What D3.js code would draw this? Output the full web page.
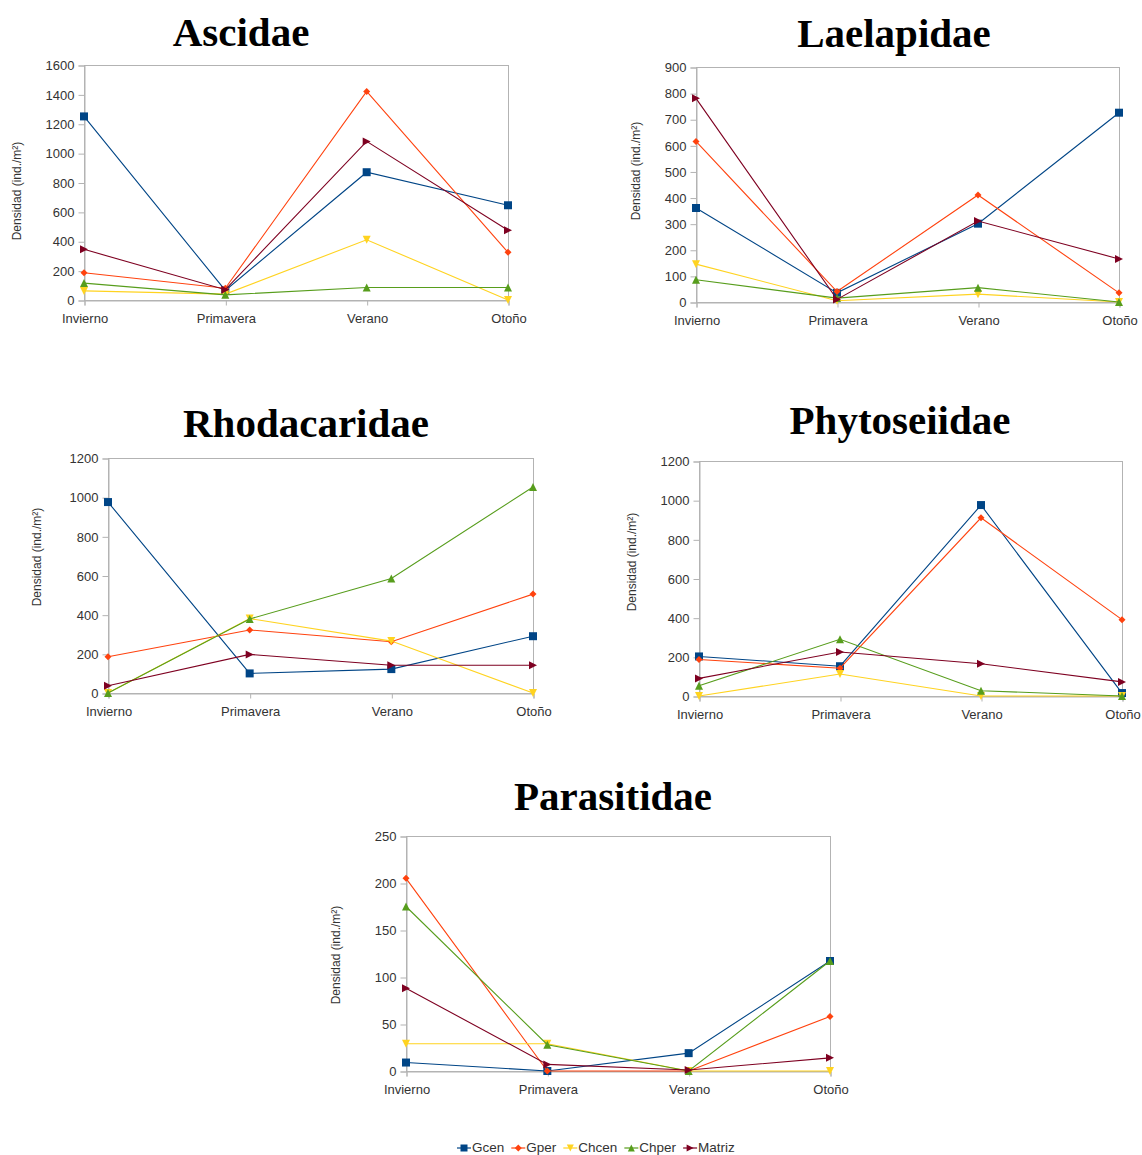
<!DOCTYPE html>
<html>
<head>
<meta charset="utf-8">
<script src="https://cdn.jsdelivr.net/npm/d3@7"></script>
<style>
  body { margin: 0; background: #fff; }
  svg { display: block; }
</style>
</head>
<body>
<svg id="chart" width="1142" height="1155"></svg>
<script>
// Seasons on the x axis and the five habitat series
const seasons = ["Invierno", "Primavera", "Verano", "Otoño"];
const seriesNames = ["Gcen", "Gper", "Chcen", "Chper", "Matriz"];
const seriesColors = ["#004586", "#ff420e", "#ffd320", "#579d1c", "#7e0021"];
const seriesSymbols = ["square", "diamond", "triangleDown", "triangleUp", "triangleRight"];

// Density (ind./m²) per family; rows follow seriesNames, columns follow seasons
const ascidae = [
  [1250, 65, 870, 645],
  [185, 80, 1420, 325],
  [62, 40, 410, 0],
  [115, 35, 85, 85],
  [345, 70, 1080, 475]
];
const laelapidae = [
  [360, 35, 300, 725],
  [615, 40, 410, 35],
  [145, 5, 30, 0],
  [85, 15, 55, 0],
  [780, 10, 310, 165]
];
const rhodacaridae = [
  [975, 100, 122, 290],
  [185, 322, 262, 505],
  [0, 380, 265, 0],
  [0, 378, 585, 1052],
  [37, 197, 142, 142]
];
const phytoseiidae = [
  [202, 152, 975, 15],
  [186, 142, 910, 390],
  [0, 112, 0, 0],
  [52, 290, 27, 0],
  [90, 225, 165, 72]
];
const parasitidae = [
  [9, 0, 19, 117],
  [205, 0, 0, 58],
  [29, 29, 0, 0],
  [175, 28, 0, 117],
  [88, 7, 1, 14]
];

// Y tick values per family
const ticksAscidae = [0, 200, 400, 600, 800, 1000, 1200, 1400, 1600];
const ticksLaelapidae = [0, 100, 200, 300, 400, 500, 600, 700, 800, 900];
const ticksRhodacaridae = [0, 200, 400, 600, 800, 1000, 1200];
const ticksPhytoseiidae = [0, 200, 400, 600, 800, 1000, 1200];
const ticksParasitidae = [0, 50, 100, 150, 200, 250];

const yLabel = "Densidad (ind./m²)";

// Panel placement on the page
const panels = [
  { title: "Ascidae", data: ascidae, ticks: ticksAscidae,
    x0: 84, x1: 508, yTop: 65, yBot: 300, titleX: 241, titleY: 46, labX: 18, labY: 191 },
  { title: "Laelapidae", data: laelapidae, ticks: ticksLaelapidae,
    x0: 696, x1: 1119, yTop: 67, yBot: 302, titleX: 894, titleY: 47, labX: 637, labY: 171 },
  { title: "Rhodacaridae", data: rhodacaridae, ticks: ticksRhodacaridae,
    x0: 108, x1: 533, yTop: 458, yBot: 693, titleX: 306, titleY: 437, labX: 38, labY: 557 },
  { title: "Phytoseiidae", data: phytoseiidae, ticks: ticksPhytoseiidae,
    x0: 699, x1: 1122, yTop: 461, yBot: 696, titleX: 900, titleY: 434, labX: 633, labY: 562 },
  { title: "Parasitidae", data: parasitidae, ticks: ticksParasitidae,
    x0: 406, x1: 830, yTop: 836, yBot: 1071, titleX: 613, titleY: 810, labX: 337, labY: 955 }
];

const svg = d3.select("#chart");
const frameColor = "#b3b3b3";
const textColor = "#333";
const sansFont = "'Liberation Sans', Arial, sans-serif";

function symbolPath(kind, s) {
  const h = s / 2;
  switch (kind) {
    case "square": return `M${-h},${-h}H${h}V${h}H${-h}Z`;
    case "diamond": return `M0,${-h}L${h},0L0,${h}L${-h},0Z`;
    case "triangleDown": return `M${-h},${-h}L${h},${-h}L0,${h}Z`;
    case "triangleUp": return `M0,${-h}L${h},${h}L${-h},${h}Z`;
    case "triangleRight": return `M${-h},${-h}L${h},0L${-h},${h}Z`;
  }
}
const symbolSize = [8, 7, 8, 8, 8];

panels.forEach(p => {
  const g = svg.append("g");
  const x = d3.scalePoint().domain(seasons).range([p.x0, p.x1]).padding(0);
  const y = d3.scaleLinear().domain([0, d3.max(p.ticks)]).range([p.yBot, p.yTop]);

  // Title
  g.append("text")
    .attr("x", p.titleX).attr("y", p.titleY)
    .attr("text-anchor", "middle")
    .attr("font-family", "'Liberation Serif', 'Times New Roman', serif")
    .attr("font-weight", "bold")
    .attr("font-size", 41)
    .attr("fill", "#000")
    .text(p.title);

  // Plot frame
  g.append("rect")
    .attr("x", p.x0 + 0.5).attr("y", y(d3.max(p.ticks)) + 0.5)
    .attr("width", p.x1 - p.x0).attr("height", p.yBot - y(d3.max(p.ticks)))
    .attr("fill", "none").attr("stroke", frameColor).attr("stroke-width", 1);

  // Y axis
  const yAxis = d3.axisLeft(y).tickValues(p.ticks).tickSize(6).tickPadding(4).tickFormat(d3.format("d"));
  const ya = g.append("g").attr("transform", `translate(${p.x0 + 0.5},0.5)`).call(yAxis);
  ya.select(".domain").attr("stroke", frameColor);
  ya.selectAll(".tick line").attr("stroke", frameColor);
  ya.selectAll(".tick text").attr("font-family", sansFont).attr("font-size", 13).attr("fill", textColor);

  // X axis
  const xAxis = d3.axisBottom(x).tickSize(5).tickPadding(8);
  const xa = g.append("g").attr("transform", `translate(0.5,${p.yBot + 0.5})`).call(xAxis);
  xa.select(".domain").attr("stroke", frameColor);
  xa.selectAll(".tick line").attr("stroke", frameColor);
  xa.selectAll(".tick text").attr("font-family", sansFont).attr("font-size", 13).attr("fill", textColor);

  // Y axis title
  g.append("text")
    .attr("transform", `translate(${p.labX},${p.labY}) rotate(-90)`)
    .attr("text-anchor", "middle")
    .attr("dominant-baseline", "middle")
    .attr("font-family", sansFont)
    .attr("font-size", 12)
    .attr("fill", textColor)
    .text(yLabel);

  // Series lines and markers
  const line = d3.line().x((d, i) => x(seasons[i])).y(d => y(d));
  p.data.forEach((vals, si) => {
    g.append("path")
      .datum(vals)
      .attr("d", line)
      .attr("fill", "none")
      .attr("stroke", seriesColors[si])
      .attr("stroke-width", 1.1);
    g.selectAll(null)
      .data(vals)
      .enter().append("path")
      .attr("transform", (d, i) => `translate(${x(seasons[i])},${y(d)})`)
      .attr("d", symbolPath(seriesSymbols[si], symbolSize[si]))
      .attr("fill", seriesColors[si]);
  });
});

// Legend
const legend = svg.append("g");
let lx = 457;
const ly = 1148;
seriesNames.forEach((name, i) => {
  const item = legend.append("g").attr("transform", `translate(${lx},${ly})`);
  item.append("line").attr("x1", 0).attr("x2", 14).attr("y1", 0).attr("y2", 0)
    .attr("stroke", seriesColors[i]).attr("stroke-width", 1.2);
  item.append("path").attr("transform", "translate(7,0)")
    .attr("d", symbolPath(seriesSymbols[i], 7)).attr("fill", seriesColors[i]);
  const t = item.append("text").attr("x", 15).attr("y", 0)
    .attr("dominant-baseline", "middle")
    .attr("font-family", sansFont).attr("font-size", 13.5).attr("fill", textColor)
    .text(name);
  lx += 15 + t.node().getComputedTextLength() + 7;
});
</script>
</body>
</html>
